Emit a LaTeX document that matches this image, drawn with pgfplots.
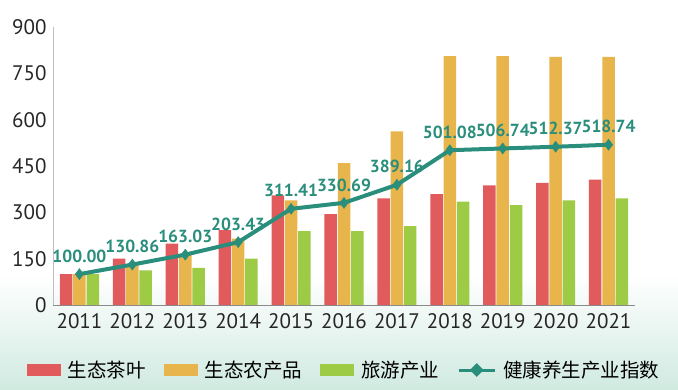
\documentclass[border=0pt]{standalone}
\usepackage{fontspec}
\setmainfont{PT Sans}
\newfontfamily\cjk{Noto Sans CJK SC}
\usepackage{pgfplots}
\pgfplotsset{compat=1.18}
\definecolor{cred}{HTML}{E15B5D}
\definecolor{corange}{HTML}{E8B54D}
\definecolor{cgreen}{HTML}{9DCB45}
\definecolor{cteal}{HTML}{2A8E7C}
\definecolor{mint}{RGB}{208,234,224}
\definecolor{axgray}{HTML}{8A8A8A}
\begin{document}
\begin{tikzpicture}[x=1pt,y=1pt]
\path[use as bounding box] (0,0) rectangle (678,390);
\shade[top color=white, bottom color=mint] (0,0) rectangle (678,115);
\begin{axis}[
  at={(53pt,85pt)}, anchor=south west,
  scale only axis, width=582pt, height=278pt,
  xmin=-0.5, xmax=10.5, ymin=0, ymax=900,
  ytick={0,150,...,900},
  xtick={0,...,10},
  xticklabels={2011,2012,2013,2014,2015,2016,2017,2018,2019,2020,2021},
  axis x line*=bottom, axis y line*=left,
  x axis line style={-, color=axgray, line width=0.8pt},
  y axis line style={-, color=black!25, line width=0.8pt},
  major tick length=0pt,
  tick style={draw=none},
  /pgf/number format/assume math mode=true,
  yticklabel style={font=\fontsize{21}{23}\selectfont, text=black!85, xshift=-3pt},
  xticklabel style={font=\fontsize{21}{23}\selectfont, text=black!85, yshift=-5pt},
  legend columns=4,
  legend style={at={(0.5,-0.234)}, anchor=center, draw=none, fill=none,
    font=\cjk\fontsize{19.5}{22}\selectfont,
    /tikz/every even column/.append style={column sep=16pt},
    /tikz/every odd column/.append style={column sep=5pt}},
]
\addplot[ybar, bar width=12.5pt, bar shift=-13.3pt, fill=cred, draw=none,
  legend image code/.code={\fill[cred] (0pt,-6pt) rectangle (34pt,6pt);}]
  coordinates {(0,100) (1,150) (2,199) (3,242) (4,355) (5,294) (6,345) (7,359) (8,387) (9,395) (10,406)};
\addlegendentry{生态茶叶}
\addplot[ybar, bar width=12.5pt, bar shift=0pt, fill=corange, draw=none,
  legend image code/.code={\fill[corange] (0pt,-6pt) rectangle (34pt,6pt);}]
  coordinates {(0,100) (1,130) (2,165) (3,215) (4,339) (5,459) (6,562) (7,806) (8,806) (9,803) (10,803)};
\addlegendentry{生态农产品}
\addplot[ybar, bar width=12.5pt, bar shift=13.3pt, fill=cgreen, draw=none,
  legend image code/.code={\fill[cgreen] (0pt,-6pt) rectangle (34pt,6pt);}]
  coordinates {(0,100) (1,112) (2,120) (3,150) (4,239) (5,239) (6,255) (7,335) (8,323) (9,339) (10,345)};
\addlegendentry{旅游产业}
\addplot[cteal, line width=4pt, mark=diamond*, mark size=5.5pt,
  mark options={line width=0.5pt, fill=cteal},
  nodes near coords, point meta=explicit symbolic,
  every node near coord/.append style={font=\bfseries\fontsize{17.5}{19}\selectfont, text=cteal, anchor=south, yshift=8pt},
  legend image code/.code={\draw[cteal, line width=3pt] (0pt,0pt) -- (36pt,0pt);
     \fill[cteal] (18pt,0pt) +(0,4pt) -- +(4pt,0) -- +(0,-4pt) -- +(-4pt,0) -- cycle;}]
  coordinates {(0,100.00)[100.00] (1,130.86)[130.86] (2,163.03)[163.03] (3,203.43)[203.43] (4,311.41)[311.41] (5,330.69)[330.69] (6,389.16)[389.16] (7,501.08)[501.08] (8,506.74)[506.74] (9,512.37)[512.37] (10,518.74)[518.74]};
\addlegendentry{健康养生产业指数}
\end{axis}
\end{tikzpicture}
\end{document}
